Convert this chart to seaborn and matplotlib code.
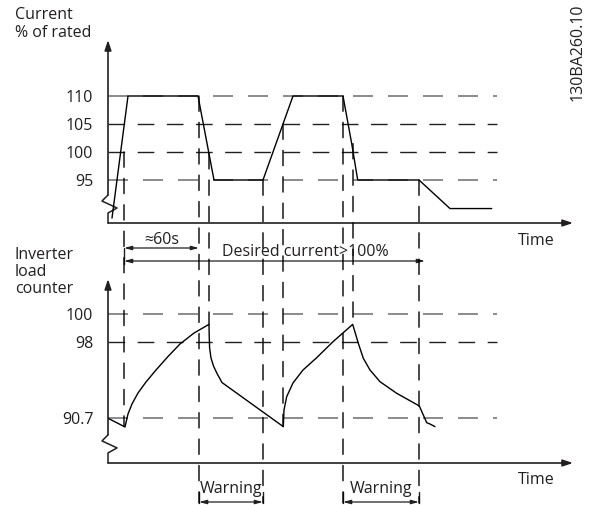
import numpy as np
import matplotlib
matplotlib.use("Agg")
import matplotlib.pyplot as plt
import matplotlib.transforms as mtransforms
from matplotlib.patches import ConnectionPatch
from matplotlib.lines import Line2D
import seaborn as sns

# ---------------- data ----------------
current_t = [4, 20, 90, 106, 155, 185, 235, 243.7, 249.7, 311, 342, 383.7]
current_pct = [88.2, 110, 110, 95, 95, 110, 110, 101.5, 95, 95, 89.9, 89.9]

load_t = [0, 17, 20, 24, 30, 38, 48, 60, 72, 86, 101,
          101.2, 101.6, 103, 105.5, 109, 114, 175.3,
          176, 178.7, 185, 195, 208.7, 225, 244.7,
          250.3, 255.3, 262, 272, 288.7, 311.3, 318.7, 322, 327]
load_pct = [90.7, 89.87, 91.11, 92.07, 93.12, 94.17, 95.32, 96.61, 97.81, 98.64, 99.26,
            98.5, 97.43, 96.47, 95.70, 94.99, 94.12, 89.9,
            91.5, 92.77, 94.08, 95.32, 96.5, 98.02, 99.26,
            97.88, 96.44, 95.32, 94.2, 93.09, 91.88, 90.28, 90.15, 89.9]

current_levels = [110, 105, 100, 95]
current_level_gray = [True, False, False, True]
load_levels = [100, 98, 90.7]
load_level_labels = ["100", "98", "90.7"]
load_level_gray = [True, False, True]

event_t = [16, 91, 101, 155, 175, 235, 245, 311]
event_top = [100, 110, 99.7, 95, 105, 110, 101.5, 95]
event_bottom = [89.9, None, 99.26, None, 89.9, None, 99.26, None]

warning_spans = [(91, 155), (235, 311)]
sixty_span = (16, 91)
desired_span = (16, 317)
level_line_end = 389
t_max = 465

# ---------------- style ----------------
sns.set_theme(style="white")
plt.rcParams["font.family"] = ["Open Sans", "DejaVu Sans"]
TXT = "#231f20"
GRAY = "#77787b"
FS = 11.5

W, H = 589, 505
fig = plt.figure(figsize=(W / 100, H / 100), dpi=100)
fig.patch.set_facecolor("white")


def fx(x):
    return x / W


def fy(y):
    return 1 - y / H


ax_top = fig.add_axes([fx(108), fy(223), fx(573) - fx(108), fy(40) - fy(223)])
ax_bot = fig.add_axes([fx(108), fy(463), fx(573) - fx(108), fy(279) - fy(463)])

# piecewise scale of the load-counter axis (schematic, not to scale below 98)
K = 10.45 / 14.0


def fwd(v):
    v = np.asarray(v, dtype=float)
    return np.where(v >= 98, v, 98 - (98 - v) * K)


def inv(f):
    f = np.asarray(f, dtype=float)
    return np.where(f >= 98, f, 98 - (98 - f) / K)


ax_bot.set_yscale("function", functions=(fwd, inv))

for ax in (ax_top, ax_bot):
    ax.set_facecolor("none")
    for s in ax.spines.values():
        s.set_visible(False)
    ax.set_xlim(0, t_max)
    ax.set_xticks([])
    ax.tick_params(axis="y", length=0, pad=10.5, labelsize=FS, colors=TXT)
    ax.grid(False)

ax_top.set_ylim(87.32, 120)
ax_bot.set_ylim(86.42, 102.5)
ax_top.set_yticks(current_levels)
ax_top.set_yticklabels([str(v) for v in current_levels])
ax_bot.set_yticks(load_levels)
ax_bot.set_yticklabels(load_level_labels)

# horizontal dashed reference levels
for lev, g in zip(current_levels, current_level_gray):
    ax_top.hlines(lev, 0, level_line_end, colors=GRAY if g else TXT,
                  linestyles=(0, (12, 9)), lw=1.2 if g else 1.0, zorder=1)
for lev, g in zip(load_levels, load_level_gray):
    ax_bot.hlines(lev, 0, level_line_end, colors=GRAY if g else TXT,
                  linestyles=(0, (12, 9)), lw=1.2 if g else 1.0, zorder=1)

# curves
sns.lineplot(x=current_t, y=current_pct, ax=ax_top, sort=False,
             estimator=None, color="black", lw=1.0, zorder=3)
sns.lineplot(x=load_t, y=load_pct, ax=ax_bot, sort=False,
             estimator=None, color="black", lw=1.0, zorder=3)

# axes with arrows and break marks
arrow_kw = dict(arrowstyle="-|>,head_length=0.6,head_width=0.2", color=TXT,
                lw=1.2, shrinkA=0, shrinkB=0, mutation_scale=10)
for ax in (ax_top, ax_bot):
    ax.annotate("", xy=(1, 0), xytext=(0, 0), xycoords="axes fraction",
                textcoords="axes fraction", arrowprops=arrow_kw,
                annotation_clip=False)
    ax.annotate("", xy=(0, 1), xytext=(0, 0.153), xycoords="axes fraction",
                textcoords="axes fraction", arrowprops=arrow_kw,
                annotation_clip=False)
    ax.add_line(Line2D([0, -0.0129, 0.0194, 0, 0],
                       [0.153, 0.120, 0.082, 0.0546, 0],
                       transform=ax.transAxes, color=TXT, lw=1.1,
                       clip_on=False))

blend_bot = mtransforms.blended_transform_factory(ax_bot.transData, ax_bot.transAxes)


def yb(py):
    """pixel row -> axes fraction of bottom axes"""
    return (463 - py) / 184.0


# vertical dashed event lines
for t, vt, vb in zip(event_t, event_top, event_bottom):
    if vb is None:
        xyB, cB = (t, yb(503)), blend_bot
    else:
        xyB, cB = (t, vb), ax_bot.transData
    cp = ConnectionPatch(xyA=(t, vt), coordsA=ax_top.transData,
                         xyB=xyB, coordsB=cB, color="black", lw=1.0,
                         linestyle=(0, (11, 8)), zorder=2)
    fig.add_artist(cp)

# span arrows
span_kw = dict(arrowstyle="<|-|>,head_length=0.45,head_width=0.12", color=TXT,
               lw=0.9, shrinkA=0, shrinkB=0, mutation_scale=10)


def span_arrow(a, b, py):
    ax_bot.annotate("", xy=(b, yb(py)), xytext=(a, yb(py)), xycoords=blend_bot,
                    textcoords=blend_bot, arrowprops=span_kw,
                    annotation_clip=False)


span_arrow(*sixty_span, 248)
ax_bot.add_line(Line2D([sixty_span[0]] * 2, [yb(248), yb(264)],
                       transform=blend_bot, color=TXT, lw=1.0, clip_on=False))
ax_bot.text(np.mean(sixty_span), yb(240), "≈60s", transform=blend_bot,
            ha="center", va="center", fontsize=FS, color=TXT)

span_arrow(*desired_span, 261)
ax_bot.text(114, yb(252), "Desired current>100%", transform=blend_bot,
            ha="left", va="center", fontsize=FS, color=TXT)

for a, b in warning_spans:
    span_arrow(a, b, 502)
    for t in (a, b):
        ax_bot.add_line(Line2D([t, t], [yb(492), yb(503)], transform=blend_bot,
                               color=TXT, lw=1.0, clip_on=False))
    ax_bot.text((a + b) / 2, yb(489), "Warning", transform=blend_bot,
                ha="center", va="center", fontsize=FS, color=TXT)

# labels
for txt, px, py in [("Current", 15, 15), ("% of rated", 15, 33),
                    ("Inverter", 15, 255), ("load", 15, 272),
                    ("counter", 15, 289), ("Time", 518, 241),
                    ("Time", 518, 480)]:
    fig.text(fx(px), fy(py), txt, ha="left", va="center", fontsize=FS, color=TXT)
fig.text(fx(578), fy(52), "130BA260.10", rotation=90, ha="center",
         va="center", fontsize=FS, color=TXT)

fig.savefig("out.png", dpi=100, facecolor="white")
